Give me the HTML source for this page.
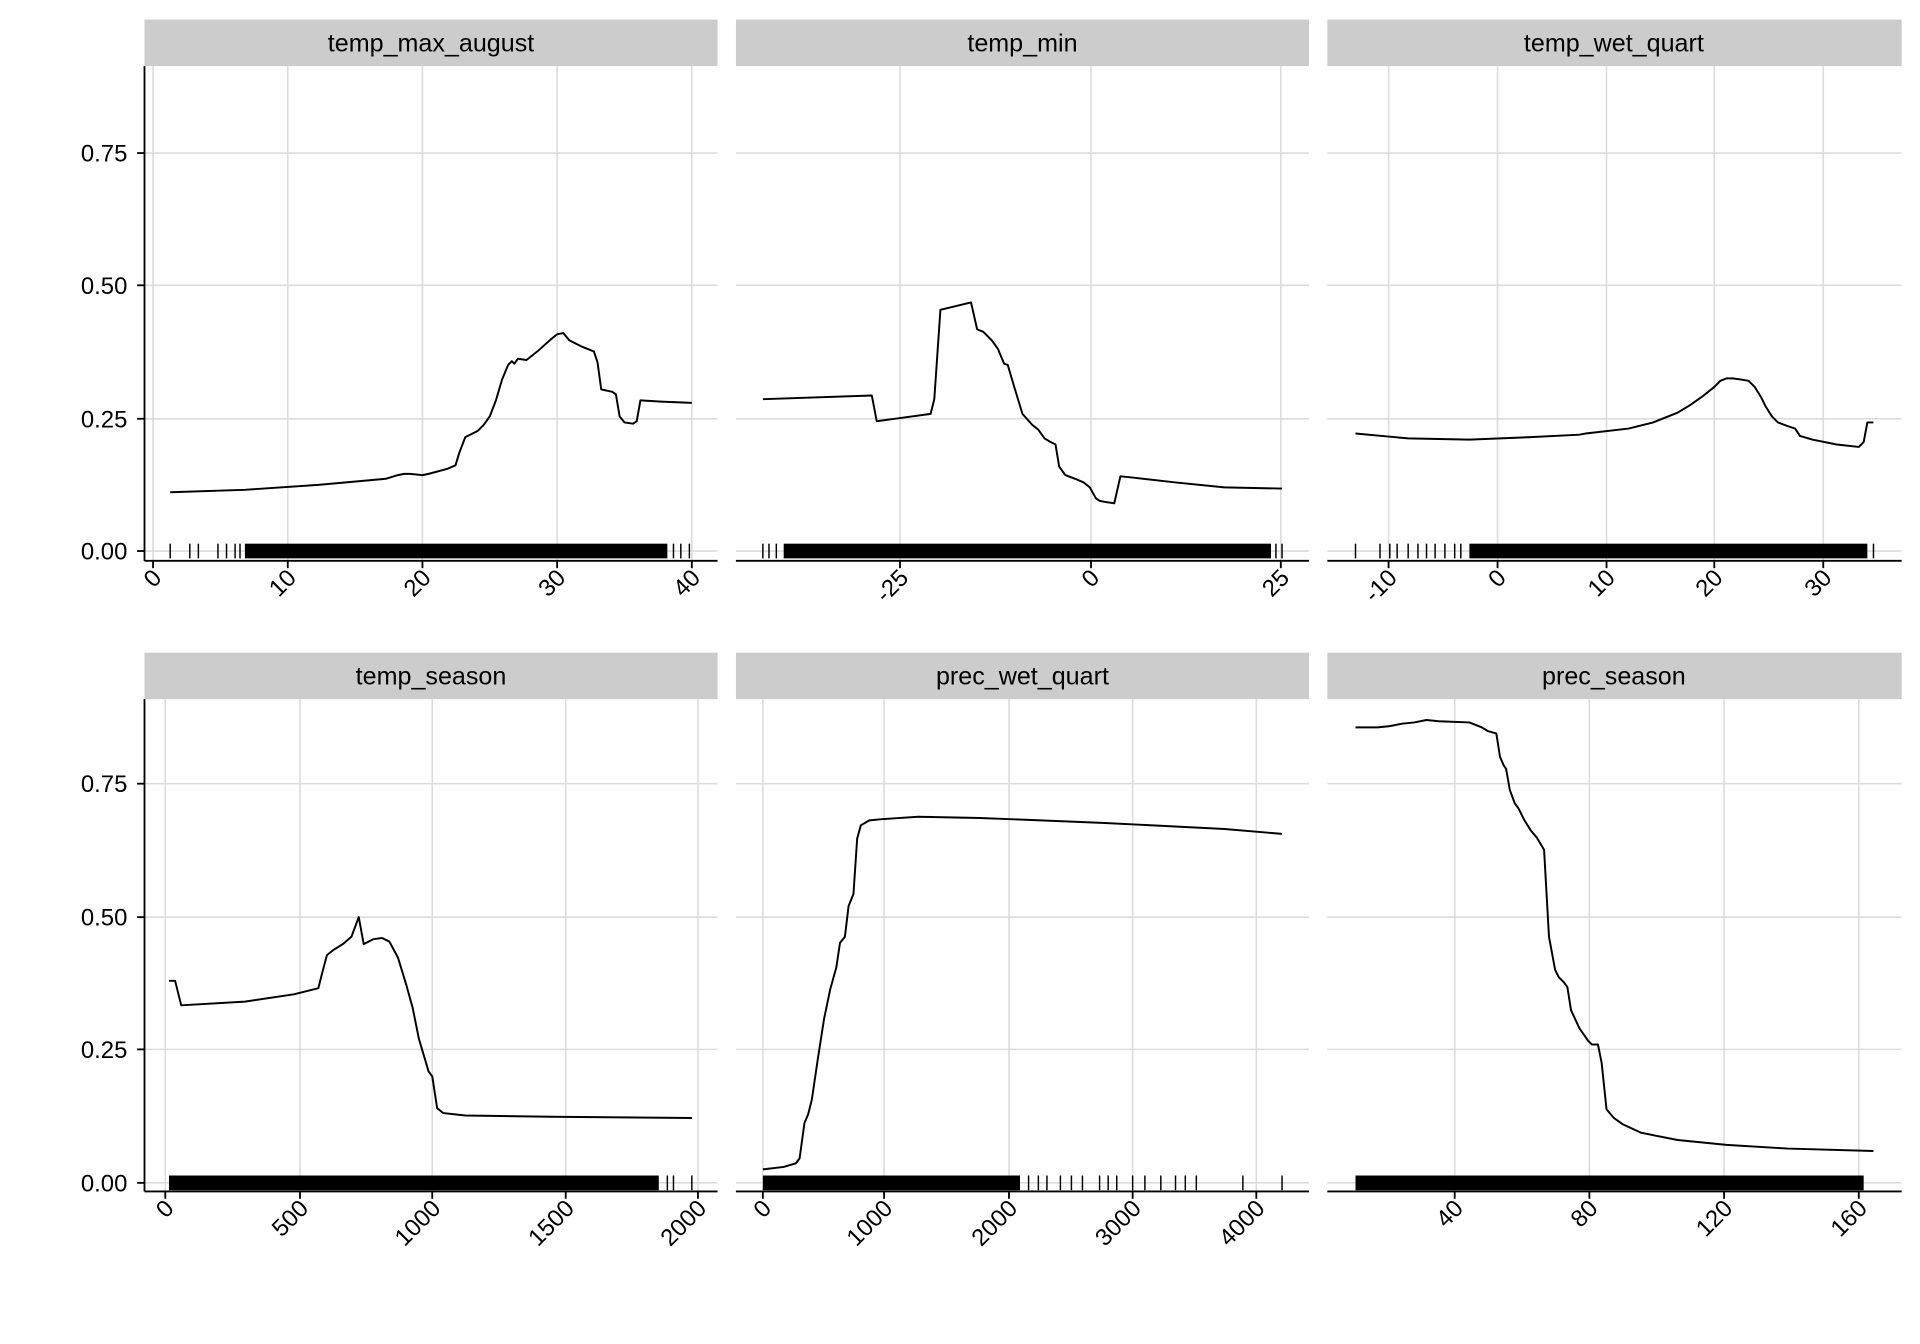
<!DOCTYPE html>
<html><head><meta charset="utf-8"><style>
html,body{margin:0;padding:0;background:#fff}
svg{display:block}
text{font-family:"Liberation Sans",Arial,sans-serif;fill:#000}
.g{stroke:#dcdcdc;stroke-width:1.3}
.ax{stroke:#000;stroke-width:1.5}
.c{fill:none;stroke:#000;stroke-width:1.6;stroke-linejoin:round}
.st{fill:#cccccc}
.s{font-size:20.5px}
.t{font-size:19.5px}
.r{stroke:#000;stroke-width:1.2}
</style></head><body>
<svg width="1920" height="1344" viewBox="0 0 1568 1097.6" preserveAspectRatio="none" xmlns="http://www.w3.org/2000/svg">
<rect width="1568" height="1098" fill="#fff"/>
<rect class="st" x="118" y="16" width="468" height="38"/><text class="s" x="352" y="42" text-anchor="middle">temp_max_august</text>
<rect class="st" x="601" y="16" width="468" height="38"/><text class="s" x="835" y="42" text-anchor="middle">temp_min</text>
<rect class="st" x="1084" y="16" width="469" height="38"/><text class="s" x="1318" y="42" text-anchor="middle">temp_wet_quart</text>
<rect class="st" x="118" y="533" width="468" height="38"/><text class="s" x="352" y="559" text-anchor="middle">temp_season</text>
<rect class="st" x="601" y="533" width="468" height="38"/><text class="s" x="835" y="559" text-anchor="middle">prec_wet_quart</text>
<rect class="st" x="1084" y="533" width="469" height="38"/><text class="s" x="1318" y="559" text-anchor="middle">prec_season</text>

<g class="g">
<line x1="118" x2="586" y1="125" y2="125"/><line x1="118" x2="586" y1="233" y2="233"/><line x1="118" x2="586" y1="342" y2="342"/><line x1="118" x2="586" y1="450" y2="450"/>
<line x1="601" x2="1069" y1="125" y2="125"/><line x1="601" x2="1069" y1="233" y2="233"/><line x1="601" x2="1069" y1="342" y2="342"/><line x1="601" x2="1069" y1="450" y2="450"/>
<line x1="1084" x2="1553" y1="125" y2="125"/><line x1="1084" x2="1553" y1="233" y2="233"/><line x1="1084" x2="1553" y1="342" y2="342"/><line x1="1084" x2="1553" y1="450" y2="450"/>
<line x1="118" x2="586" y1="640" y2="640"/><line x1="118" x2="586" y1="749" y2="749"/><line x1="118" x2="586" y1="857" y2="857"/><line x1="118" x2="586" y1="966" y2="966"/>
<line x1="601" x2="1069" y1="640" y2="640"/><line x1="601" x2="1069" y1="749" y2="749"/><line x1="601" x2="1069" y1="857" y2="857"/><line x1="601" x2="1069" y1="966" y2="966"/>
<line x1="1084" x2="1553" y1="640" y2="640"/><line x1="1084" x2="1553" y1="749" y2="749"/><line x1="1084" x2="1553" y1="857" y2="857"/><line x1="1084" x2="1553" y1="966" y2="966"/>
<line x1="125" x2="125" y1="54" y2="458"/><line x1="235" x2="235" y1="54" y2="458"/><line x1="345" x2="345" y1="54" y2="458"/><line x1="455" x2="455" y1="54" y2="458"/><line x1="565" x2="565" y1="54" y2="458"/>
<line x1="735" x2="735" y1="54" y2="458"/><line x1="891" x2="891" y1="54" y2="458"/><line x1="1046" x2="1046" y1="54" y2="458"/>
<line x1="1134" x2="1134" y1="54" y2="458"/><line x1="1223" x2="1223" y1="54" y2="458"/><line x1="1312" x2="1312" y1="54" y2="458"/><line x1="1400" x2="1400" y1="54" y2="458"/><line x1="1489" x2="1489" y1="54" y2="458"/>
<line x1="135" x2="135" y1="571" y2="973"/><line x1="245" x2="245" y1="571" y2="973"/><line x1="353" x2="353" y1="571" y2="973"/><line x1="462" x2="462" y1="571" y2="973"/><line x1="570" x2="570" y1="571" y2="973"/>
<line x1="623" x2="623" y1="571" y2="973"/><line x1="722" x2="722" y1="571" y2="973"/><line x1="824" x2="824" y1="571" y2="973"/><line x1="925" x2="925" y1="571" y2="973"/><line x1="1026" x2="1026" y1="571" y2="973"/>
<line x1="1188" x2="1188" y1="571" y2="973"/><line x1="1298" x2="1298" y1="571" y2="973"/><line x1="1408" x2="1408" y1="571" y2="973"/><line x1="1518" x2="1518" y1="571" y2="973"/>
</g>

<g fill="#000">
<rect x="200" y="444" width="345" height="12"/>
<rect x="640" y="444" width="398" height="12"/>
<rect x="1200" y="444" width="325" height="12"/>
<rect x="138" y="960" width="400" height="12"/>
<rect x="623" y="960" width="210" height="12"/>
<rect x="1107" y="960" width="415" height="12"/>
</g>
<g class="r">
<line x1="139" x2="139" y1="444" y2="456"/><line x1="155" x2="155" y1="444" y2="456"/><line x1="162" x2="162" y1="444" y2="456"/><line x1="178" x2="178" y1="444" y2="456"/><line x1="185" x2="185" y1="444" y2="456"/><line x1="192" x2="192" y1="444" y2="456"/><line x1="196" x2="196" y1="444" y2="456"/><line x1="550" x2="550" y1="444" y2="456"/><line x1="556" x2="556" y1="444" y2="456"/><line x1="563" x2="563" y1="444" y2="456"/>
<line x1="623" x2="623" y1="444" y2="456"/><line x1="628" x2="628" y1="444" y2="456"/><line x1="634" x2="634" y1="444" y2="456"/><line x1="1042" x2="1042" y1="444" y2="456"/><line x1="1047" x2="1047" y1="444" y2="456"/>
<line x1="1107" x2="1107" y1="444" y2="456"/><line x1="1127" x2="1127" y1="444" y2="456"/><line x1="1135" x2="1135" y1="444" y2="456"/><line x1="1141" x2="1141" y1="444" y2="456"/><line x1="1150" x2="1150" y1="444" y2="456"/><line x1="1158" x2="1158" y1="444" y2="456"/><line x1="1165" x2="1165" y1="444" y2="456"/><line x1="1172" x2="1172" y1="444" y2="456"/><line x1="1180" x2="1180" y1="444" y2="456"/><line x1="1188" x2="1188" y1="444" y2="456"/><line x1="1193" x2="1193" y1="444" y2="456"/><line x1="1530" x2="1530" y1="444" y2="456"/>
<line x1="545" x2="545" y1="960" y2="972"/><line x1="550" x2="550" y1="960" y2="972"/><line x1="565" x2="565" y1="960" y2="972"/>
<line x1="840" x2="840" y1="960" y2="972"/><line x1="848" x2="848" y1="960" y2="972"/><line x1="855" x2="855" y1="960" y2="972"/><line x1="866" x2="866" y1="960" y2="972"/><line x1="875" x2="875" y1="960" y2="972"/><line x1="884" x2="884" y1="960" y2="972"/><line x1="898" x2="898" y1="960" y2="972"/><line x1="905" x2="905" y1="960" y2="972"/><line x1="912" x2="912" y1="960" y2="972"/><line x1="925" x2="925" y1="960" y2="972"/><line x1="935" x2="935" y1="960" y2="972"/><line x1="948" x2="948" y1="960" y2="972"/><line x1="960" x2="960" y1="960" y2="972"/><line x1="968" x2="968" y1="960" y2="972"/><line x1="977" x2="977" y1="960" y2="972"/><line x1="1015" x2="1015" y1="960" y2="972"/><line x1="1047" x2="1047" y1="960" y2="972"/>
</g>

<g class="ax">
<line x1="118" x2="118" y1="54" y2="458"/><line x1="118" x2="118" y1="571" y2="973"/>
<line x1="118" x2="586" y1="458" y2="458"/><line x1="601" x2="1069" y1="458" y2="458"/><line x1="1084" x2="1553" y1="458" y2="458"/>
<line x1="118" x2="586" y1="973" y2="973"/><line x1="601" x2="1069" y1="973" y2="973"/><line x1="1084" x2="1553" y1="973" y2="973"/>
<line x1="112" x2="118" y1="125" y2="125"/><line x1="112" x2="118" y1="233" y2="233"/><line x1="112" x2="118" y1="342" y2="342"/><line x1="112" x2="118" y1="450" y2="450"/>
<line x1="112" x2="118" y1="640" y2="640"/><line x1="112" x2="118" y1="749" y2="749"/><line x1="112" x2="118" y1="857" y2="857"/><line x1="112" x2="118" y1="966" y2="966"/>
<line x1="125" x2="125" y1="458" y2="464"/><line x1="235" x2="235" y1="458" y2="464"/><line x1="345" x2="345" y1="458" y2="464"/><line x1="455" x2="455" y1="458" y2="464"/><line x1="565" x2="565" y1="458" y2="464"/>
<line x1="735" x2="735" y1="458" y2="464"/><line x1="891" x2="891" y1="458" y2="464"/><line x1="1046" x2="1046" y1="458" y2="464"/>
<line x1="1134" x2="1134" y1="458" y2="464"/><line x1="1223" x2="1223" y1="458" y2="464"/><line x1="1312" x2="1312" y1="458" y2="464"/><line x1="1400" x2="1400" y1="458" y2="464"/><line x1="1489" x2="1489" y1="458" y2="464"/>
<line x1="135" x2="135" y1="973" y2="979"/><line x1="245" x2="245" y1="973" y2="979"/><line x1="353" x2="353" y1="973" y2="979"/><line x1="462" x2="462" y1="973" y2="979"/><line x1="570" x2="570" y1="973" y2="979"/>
<line x1="623" x2="623" y1="973" y2="979"/><line x1="722" x2="722" y1="973" y2="979"/><line x1="824" x2="824" y1="973" y2="979"/><line x1="925" x2="925" y1="973" y2="979"/><line x1="1026" x2="1026" y1="973" y2="979"/>
<line x1="1188" x2="1188" y1="973" y2="979"/><line x1="1298" x2="1298" y1="973" y2="979"/><line x1="1408" x2="1408" y1="973" y2="979"/><line x1="1518" x2="1518" y1="973" y2="979"/>
</g>

<g class="t" text-anchor="end">
<text x="104" y="132">0.75</text><text x="104" y="240">0.50</text><text x="104" y="349">0.25</text><text x="104" y="457">0.00</text>
<text x="104" y="647">0.75</text><text x="104" y="756">0.50</text><text x="104" y="864">0.25</text><text x="104" y="973">0.00</text>
</g>

<g class="t" text-anchor="end">
<text transform="translate(133,473) rotate(-45)">0</text>
<text transform="translate(243,473) rotate(-45)">10</text>
<text transform="translate(353,473) rotate(-45)">20</text>
<text transform="translate(463,473) rotate(-45)">30</text>
<text transform="translate(573,473) rotate(-45)">40</text>
<text transform="translate(743,473) rotate(-45)">-25</text>
<text transform="translate(899,473) rotate(-45)">0</text>
<text transform="translate(1054,473) rotate(-45)">25</text>
<text transform="translate(1142,473) rotate(-45)">-10</text>
<text transform="translate(1231,473) rotate(-45)">0</text>
<text transform="translate(1320,473) rotate(-45)">10</text>
<text transform="translate(1408,473) rotate(-45)">20</text>
<text transform="translate(1497,473) rotate(-45)">30</text>
<text transform="translate(143,988) rotate(-45)">0</text>
<text transform="translate(253,988) rotate(-45)">500</text>
<text transform="translate(361,988) rotate(-45)">1000</text>
<text transform="translate(470,988) rotate(-45)">1500</text>
<text transform="translate(578,988) rotate(-45)">2000</text>
<text transform="translate(631,988) rotate(-45)">0</text>
<text transform="translate(730,988) rotate(-45)">1000</text>
<text transform="translate(832,988) rotate(-45)">2000</text>
<text transform="translate(933,988) rotate(-45)">3000</text>
<text transform="translate(1034,988) rotate(-45)">4000</text>
<text transform="translate(1196,988) rotate(-45)">40</text>
<text transform="translate(1306,988) rotate(-45)">80</text>
<text transform="translate(1416,988) rotate(-45)">120</text>
<text transform="translate(1526,988) rotate(-45)">160</text>
</g>

<polyline class="c" points="139,402 200,400 260,396 315,391 325,388 330,387 335,387 345,388 350,387 365,383 372,380 375,370 380,357 390,352 395,347 400,340 405,327 410,310 415,298 418,295 420,297 423,293 430,294 440,286 450,277 455,273 460,272 465,278 475,283 485,287 488,296 491,318 500,320 503,322 506,340 510,345 517,346 520,344 523,327 540,328 565,329"/>
<polyline class="c" points="623,326 712,323 716,344 760,338 763,326 768,253 793,247 798,269 803,271 810,278 815,285 820,297 823,298 828,315 835,338 843,347 848,351 853,358 858,361 862,363 865,381 870,388 878,391 885,394 890,398 895,407 898,409 903,410 910,411 915,389 925,390 960,394 1000,398 1047,399"/>
<polyline class="c" points="1107,354 1150,358 1200,359 1250,357 1290,355 1295,354 1330,350 1350,345 1370,337 1380,331 1390,324 1400,316 1405,311 1410,309 1415,309 1422,310 1428,311 1433,316 1438,324 1442,332 1447,340 1452,345 1460,348 1466,350 1470,356 1480,359 1500,363 1518,365 1522,361 1525,345 1530,345"/>
<polyline class="c" points="138,801 143,801 148,821 200,818 240,812 260,807 263,795 267,780 272,776 280,771 287,765 293,749 297,771 305,767 312,766 318,769 325,782 332,805 337,823 342,848 350,875 353,879 357,905 362,909 380,911 450,912 565,913"/>
<polyline class="c" points="623,955 640,953 650,950 653,946 657,917 660,910 663,898 668,864 673,832 678,808 683,790 686,770 690,765 693,740 697,730 700,685 703,674 710,670 720,669 750,667 800,668 900,672 1000,677 1047,681"/>
<polyline class="c" points="1107,594 1125,594 1135,593 1145,591 1155,590 1165,588 1175,589 1200,590 1210,594 1215,597 1222,599 1225,618 1228,625 1230,628 1233,645 1237,656 1240,660 1245,670 1250,678 1255,684 1261,694 1265,765 1270,792 1273,798 1277,802 1280,806 1283,825 1290,840 1297,850 1300,853 1305,853 1308,868 1312,906 1318,913 1325,918 1340,925 1370,931 1410,935 1460,938 1530,940"/>
</svg>
</body></html>
